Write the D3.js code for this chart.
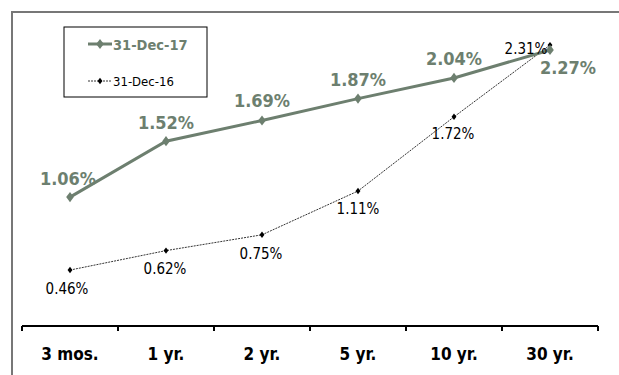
<!DOCTYPE html>
<html>
<head>
<meta charset="utf-8">
<script src="https://cdn.jsdelivr.net/npm/d3@7"></script>
<style>
  body { margin: 0; background: #fff; }
  svg text { font-family: "DejaVu Sans Condensed", "DejaVu Sans", sans-serif; font-stretch: condensed; }
</style>
</head>
<body>
<div id="graph"></div>
<script>
//data
var categories = ["3 mos.", "1 yr.", "2 yr.", "5 yr.", "10 yr.", "30 yr."];
var dec17 = [1.06, 1.52, 1.69, 1.87, 2.04, 2.27];
var dec16 = [0.46, 0.62, 0.75, 1.11, 1.72, 2.31];
var seriesNames = ["31-Dec-17", "31-Dec-16"];

//measurements
var width = 619;
var height = 375;
var margin = { top: 22, right: 21, bottom: 49, left: 22 };
var chartWidth = width - margin.left - margin.right;
var chartHeight = height - margin.top - margin.bottom;
var green = "#6d7f6f";

var svg = d3.select("#graph").append("svg")
    .attr("width", width)
    .attr("height", height);

// outer frame
svg.append("rect")
    .attr("x", 12).attr("y", 12)
    .attr("width", 640).attr("height", 400)
    .style("fill", "none")
    .style("stroke", "#777")
    .style("stroke-width", 2);

var plot = svg.append("g")
    .attr("transform", "translate(" + margin.left + "," + margin.top + ")");

var x = d3.scaleBand().domain(categories).range([0, chartWidth]);
var y = d3.scaleLinear().domain([0, 2.5]).range([chartHeight, 0]);
function cx(i) { return x(categories[i]) + x.bandwidth() / 2; }

// x axis
var xAxis = d3.axisBottom(x).tickSize(0);
var xg = plot.append("g")
    .attr("transform", "translate(0," + chartHeight + ")")
    .call(xAxis);
xg.select(".domain").remove();
xg.append("line")
    .attr("x1", 0).attr("x2", chartWidth)
    .style("stroke", "#000").style("stroke-width", 2);
xg.selectAll(".sep")
    .data(d3.range(categories.length + 1))
    .enter().append("line")
    .attr("x1", function (i) { return i * x.bandwidth(); })
    .attr("x2", function (i) { return i * x.bandwidth(); })
    .attr("y1", 0).attr("y2", 5)
    .style("stroke", "#000").style("stroke-width", 2);
xg.selectAll(".tick text")
    .attr("y", 34)
    .attr("dy", 0)
    .style("font-size", "17px")
    .style("font-weight", "bold")
    .style("fill", "#000");

var line = d3.line()
    .x(function (d, i) { return cx(i); })
    .y(function (d) { return y(d); });

var diamond = d3.symbol().type(d3.symbolDiamond);

// 31-Dec-16 series
plot.append("path")
    .datum(dec16)
    .attr("d", line)
    .style("fill", "none")
    .style("stroke", "#000")
    .style("stroke-width", 0.8)
    .style("stroke-dasharray", "2,1");
plot.selectAll(".dot16")
    .data(dec16)
    .enter().append("path")
    .attr("transform", function (d, i) { return "translate(" + cx(i) + "," + y(d) + ") scale(1.3,1)"; })
    .attr("d", diamond.size(12))
    .style("fill", "#000");

// 31-Dec-17 series
plot.append("path")
    .datum(dec17)
    .attr("d", line)
    .style("fill", "none")
    .style("stroke", green)
    .style("stroke-width", 3);
plot.selectAll(".dot17")
    .data(dec17)
    .enter().append("path")
    .attr("transform", function (d, i) { return "translate(" + cx(i) + "," + y(d) + ") scale(1.3,1)"; })
    .attr("d", diamond.size(30))
    .style("fill", green);

// labels
var off17 = [[-2, -12], [0, -12], [0, -13], [0, -13], [0, -13], [18, 24]];
plot.selectAll(".lab17")
    .data(dec17)
    .enter().append("text")
    .attr("x", function (d, i) { return cx(i) + off17[i][0]; })
    .attr("y", function (d, i) { return y(d) + off17[i][1]; })
    .attr("text-anchor", "middle")
    .style("font-size", "18px")
    .style("font-weight", "bold")
    .style("fill", green)
    .text(function (d) { return d.toFixed(2) + "%"; });

var off16 = [[-3, 24], [-1, 23], [-1, 24], [0, 23], [-1, 22], [-24, 9]];
plot.selectAll(".lab16")
    .data(dec16)
    .enter().append("text")
    .attr("x", function (d, i) { return cx(i) + off16[i][0]; })
    .attr("y", function (d, i) { return y(d) + off16[i][1]; })
    .attr("text-anchor", "middle")
    .style("font-size", "15px")
    .style("fill", "#000")
    .text(function (d) { return d.toFixed(2) + "%"; });

// legend
var legend = svg.append("g").attr("transform", "translate(64,27)");
legend.append("rect")
    .attr("width", 143).attr("height", 70)
    .style("fill", "#fff").style("stroke", "#000").style("stroke-width", 1);
var l1 = legend.append("g").attr("transform", "translate(0,17)");
l1.append("line").attr("x1", 24).attr("x2", 48)
    .style("stroke", green).style("stroke-width", 3);
l1.append("path").attr("transform", "translate(36,0) scale(1.3,1)")
    .attr("d", diamond.size(30)).style("fill", green);
l1.append("text").attr("x", 49).attr("y", 6)
    .style("font-size", "14.5px").style("font-weight", "bold").style("fill", green)
    .text(seriesNames[0]);
var l2 = legend.append("g").attr("transform", "translate(0,54)");
l2.append("line").attr("x1", 24).attr("x2", 48)
    .style("stroke", "#000").style("stroke-width", 0.8).style("stroke-dasharray", "2,1");
l2.append("path").attr("transform", "translate(36,0) scale(1.3,1)")
    .attr("d", diamond.size(12)).style("fill", "#000");
l2.append("text").attr("x", 49).attr("y", 5)
    .style("font-size", "13px").style("fill", "#000")
    .text(seriesNames[1]);
</script>
</body>
</html>
